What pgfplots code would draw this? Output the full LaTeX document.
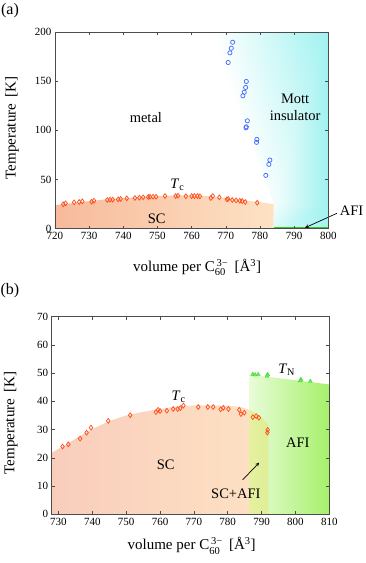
\documentclass[border=0pt]{standalone}
\usepackage{fontspec}
\setmainfont{Liberation Serif}
\usepackage{amsmath}
\usepackage{pgfplots}
\pgfplotsset{compat=1.18}

\definecolor{scLa}{RGB}{247,186,155}
\definecolor{scRa}{RGB}{253,226,196}
\definecolor{scLb}{RGB}{249,205,188}
\definecolor{scRb}{RGB}{253,226,196}
\definecolor{mott}{RGB}{160,242,240}
\definecolor{tcC}{RGB}{255,75,25}
\definecolor{mitC}{RGB}{70,100,255}
\definecolor{afiLine}{RGB}{50,200,40}
\definecolor{afiL}{RGB}{232,252,216}
\definecolor{afiR}{RGB}{166,240,106}
\definecolor{ovL}{RGB}{230,240,160}
\definecolor{ovR}{RGB}{222,238,150}
\definecolor{tnC}{RGB}{60,220,40}

\pgfplotsset{
  myax/.style={
    scale only axis, axis on top, clip=false,
    tick align=inside,
    axis line style={black!70, line width=0.6pt},
    every tick/.style={black!70, line width=0.5pt},
    major tick length=3pt,
    tick label style={font=\fontsize{11}{12}\selectfont},
    label style={font=\fontsize{15}{17}\selectfont},
    /pgf/number format/assume math mode=true,
  },
  tcmark/.style={only marks, mark=diamond, mark size=2.4pt, mark options={draw=tcC, fill=white, line width=0.7pt}},
}
\newcommand{\lbl}{\fontsize{14.5}{17.7}\selectfont}

\begin{document}
\begin{tikzpicture}
\useasboundingbox (0,0) rectangle (365pt,563pt);

% ---------------- panel (a)
\begin{axis}[myax,
  at={(55pt,334.3pt)}, anchor=south west,
  width=273.3pt, height=196.7pt,
  xmin=720, xmax=800, ymin=0, ymax=200,
  xtick={720,730,...,800}, ytick={0,50,...,200},
  xlabel={volume per C$_{\text{60}}^{\,\text{3−}}$\, [Å\textsuperscript{3}]},
  ylabel={Temperature\, [K]},
  xlabel style={at={(axis description cs:0.52,-0.197)}, anchor=center},
  ylabel style={at={(axis description cs:-0.157,0.512)}, anchor=center},
  colormap={mottmap}{rgb255=(255,255,255) rgb255=(160,242,240)},
  point meta min=0, point meta max=1,
]
% Mott insulator region (interpolated shading)
\addplot[patch, shader=interp, point meta=explicit] table[meta=c] {
x y c
766 200 0
784 25 0.12
800 200 1
784 25 0.12
800 25 1
800 200 1
784 0 0.4
800 0 0.95
800 25 1
784 0 0.4
784 25 0.12
800 25 1
};
% SC region
\addplot[draw=none, left color=scLa, right color=scRa] coordinates
  {(720,0) (720,24) (725,26) (730,28) (735,29.8) (740,31) (745,32) (750,33)
   (756,34) (760,33.8) (765,33) (770,31) (775,29) (780,27) (784,25) (784,0)} -- cycle;
% AFI line
\addplot[afiLine, line width=1.8pt] coordinates {(784,0.7) (800,0.7)};
% MIT points
\addplot[only marks, mark=o, mark size=2.1pt, mark options={draw=mitC, line width=0.7pt}] coordinates {
(772.0,189.6) (771.6,183.5) (771.2,178.8) (770.7,169.0)
(776.0,149.7) (775.8,143.6) (775.4,138.8) (775.0,135.1)
(776.3,109.7) (776.0,103.6) (775.9,102.6)
(779.1,90.8) (779.0,87.8)
(782.9,69.8) (782.6,65.4) (781.7,54.2)};
% Tc points
\addplot[tcmark] coordinates {
(722.4,24.8) (723.1,25.8) (725.6,26.8) (727.1,27.1) (728.0,27.8) (730.7,27.4)
(731.4,28.4) (735.3,29.2) (736.1,29.5) (736.9,29.5) (738.5,29.9) (739.2,30.2)
(741.0,30.9) (743.4,31.2) (744.7,31.5) (745.8,31.9) (747.3,32.2) (747.8,32.5)
(748.7,32.5) (749.6,32.5) (752.2,33.2) (755.3,33.2) (756.0,33.5) (758.3,33.0)
(760.0,33.2) (760.8,33.2) (761.7,33.2) (762.4,32.9) (765.6,31.2) (766.2,33.2)
(768.1,31.9) (770.3,29.9) (770.7,30.2) (771.9,29.2) (773.0,28.8) (774.1,28.4)
(774.8,28.1) (775.7,27.1) (779.2,26.4)};
\node[font=\lbl] at (axis cs:746.6,113.4) {metal};
\node[font=\lbl, align=center] at (axis cs:790.3,123.5) {Mott\\insulator};
\node[font=\lbl] at (axis cs:749.8,10.6) {SC};
\node[font=\lbl] at (axis cs:755.8,45) {\textit{T}$_{\text{c}}$};
\node[font=\lbl] at (axis cs:806.8,18.6) {AFI};
\draw[-stealth, line width=0.7pt] (axis cs:802.5,15.6) -- (axis cs:793.2,1.0);
\end{axis}

% ---------------- panel (b)
\begin{axis}[myax,
  at={(51.7pt,48.7pt)}, anchor=south west,
  width=277.6pt, height=197.6pt,
  xmin=728, xmax=810, ymin=0, ymax=70,
  xtick={730,740,...,810}, ytick={0,10,...,70},
  xlabel={volume per C$_{\text{60}}^{\,\text{3−}}$\, [Å\textsuperscript{3}]},
  ylabel={Temperature\, [K]},
  xlabel style={at={(axis description cs:0.504,-0.16)}, anchor=center},
  ylabel style={at={(axis description cs:-0.147,0.462)}, anchor=center},
]
% SC region
\addplot[draw=none, left color=scLb, right color=scRb] coordinates
  {(728,0) (728,21.8) (732,24.5) (736,27.5) (740,30.2) (745,33) (750,35) (755,36.3)
   (760,37.3) (765,38.2) (770,38.6) (775,38.6) (780,38.5) (784,38) (786.5,37)
   (788,36) (790,34.5) (792,32) (792,0)} -- cycle;
% AFI region
\addplot[draw=none, left color=afiL, right color=afiR] coordinates
  {(786.5,0) (786.5,49.5) (810,46) (810,0)} -- cycle;
% SC+AFI overlap
\addplot[draw=none, left color=ovL, right color=ovR] coordinates
  {(786.5,0) (786.5,37) (788,36) (790,34.5) (792,32) (792,0)} -- cycle;
% TN points
\addplot[only marks, mark=triangle*, mark size=2.3pt, mark options={draw=tnC, fill=tnC!70}] coordinates {
(787.4,49.6) (788.1,49.4) (789.0,49.5) (791.8,49.5) (791.6,49.0)
(801.6,47.8) (801.4,47.3) (804.4,47.1)};
% Tc points
\addplot[tcmark] coordinates {
(731.2,24.0) (732.9,24.8) (736.4,26.8) (738.3,28.9) (739.6,30.7) (744.7,33.1)
(751.2,35.1) (758.8,36.2) (759.4,37.0) (760.0,36.6) (762.0,36.7) (763.9,37.3)
(765.2,37.3) (766.0,37.6) (766.9,38.5) (771.3,38.0) (774.1,38.0) (775.7,38.0)
(777.9,37.2) (778.7,37.7) (780.2,37.3) (783.4,37.0) (783.9,35.5) (784.9,36.0)
(787.4,34.4) (788.4,34.8) (789.2,34.2) (791.8,29.9) (791.7,28.9)};
\node[font=\lbl] at (axis cs:761.7,17.5) {SC};
\node[font=\lbl] at (axis cs:800.7,25.4) {AFI};
\node[font=\lbl] at (axis cs:782.4,7.3) {SC+AFI};
\node[font=\lbl] at (axis cs:765.5,41.5) {\textit{T}$_{\text{c}}$};
\node[font=\lbl] at (axis cs:797.4,51.1) {\textit{T}$_{\text{N}}$};
\draw[-stealth, line width=0.7pt] (axis cs:784.4,12.2) -- (axis cs:789.3,18.3);
\end{axis}

\node[font=\fontsize{16}{18}\selectfont] at (10pt,552pt) {(a)};
\node[font=\fontsize{16}{18}\selectfont] at (10pt,272.5pt) {(b)};
\end{tikzpicture}
\end{document}
